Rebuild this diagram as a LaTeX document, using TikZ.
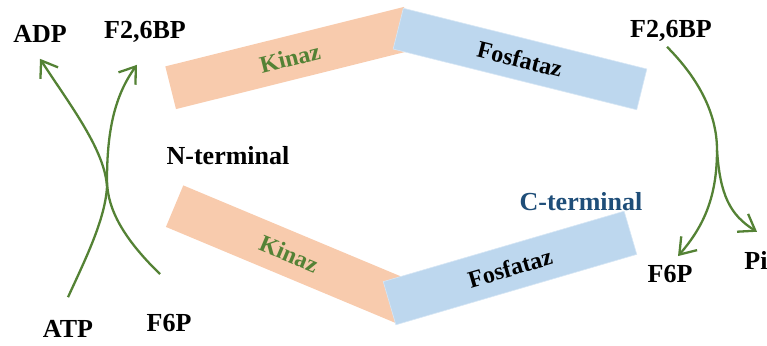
\documentclass[tikz,border=0pt]{standalone}
\usepackage{fontspec}
\setmainfont{Liberation Serif}
\usetikzlibrary{arrows.meta}
\definecolor{korange}{HTML}{F8CBAD}
\definecolor{fblue}{HTML}{BDD7EE}
\definecolor{agreen}{HTML}{548235}
\definecolor{cblue}{HTML}{1F4E79}
\tikzset{
  lbl/.style={font=\fontsize{26}{30}\selectfont\bfseries, inner sep=0pt},
  bartext/.style={font=\fontsize{24}{28}\selectfont\bfseries},
  kbar/.style={fill=korange, draw=none, bartext, text=agreen},
  fbar/.style={fill=fblue, draw=fblue!60!white, line width=0.6pt, bartext, text=black},
  arr/.style={draw=agreen, line width=2.3pt, -{Straight Barb[length=15pt,width=21pt,line width=2.3pt]}},
}
\begin{document}
\begin{tikzpicture}[x=1pt,y=-1pt]
\useasboundingbox (0,0) rectangle (767,345);
% bars
\node[kbar, rotate=14, minimum width=246pt, minimum height=44pt] (k1) at (290,58) {Kinaz};
\node[fbar, rotate=-14, minimum width=251pt, minimum height=42pt] (f1) at (520,59) {Fosfataz};
\node[kbar, rotate=-22.7, minimum width=248pt, minimum height=45pt] (k2) at (289,254) {Kinaz};
\node[fbar, rotate=16.3, minimum width=251pt, minimum height=45pt] (f2) at (510,268) {Fosfataz};
% labels
\node[lbl] (adp) at (40,34) {ADP};
\node[lbl] (f26l) at (145,32) {F2,6BP};
\node[lbl] (nterm) at (228,156) {N-terminal};
\node[lbl] (atp) at (68,329) {ATP};
\node[lbl] (f6pl) at (169,323) {F6P};
\node[lbl] (f26r) at (671,31) {F2,6BP};
\node[lbl, text=cblue] (cterm) at (581,202) {C-terminal};
\node[lbl] (f6pr) at (670,274) {F6P};
\node[lbl] (pi) at (756,260) {Pi};
% arrows
\draw[arr] ([yshift=23pt]atp.north) .. controls (85,260) and (105,220) .. (107,187)
   .. controls (105,150) and (70,105) .. ([yshift=-16pt]adp.south);
\draw[arr] ([shift={(-9pt,40pt)}]f6pl.north) .. controls (125,240) and (107,210) .. (107,180)
   .. controls (107,130) and (115,95) .. ([shift={(-8pt,-22pt)}]f26l.south);
\coordinate (br) at (717,150);
\draw[arr] ([shift={(-4pt,-5pt)}]f26r.south) .. controls (700,80) and (717,115) .. (br)
   .. controls (717,195) and (705,225) .. ([shift={(8pt,9pt)}]f6pr.north);
\draw[arr] (br) .. controls (720,195) and (730,215) .. ([shift={(1pt,19pt)}]pi.north);
\end{tikzpicture}
\end{document}
